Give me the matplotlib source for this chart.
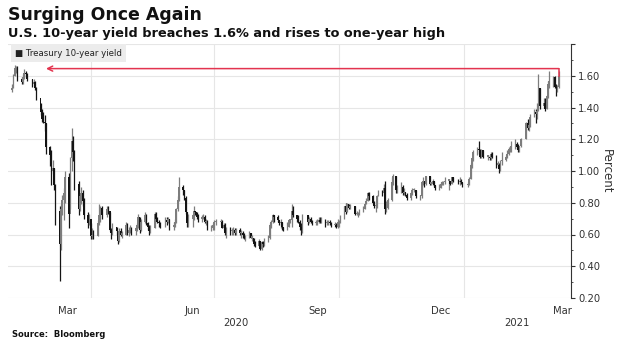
import matplotlib
matplotlib.use('Agg')
import matplotlib.pyplot as plt
import matplotlib.dates as mdates
import matplotlib.transforms as mtransforms
import numpy as np
import pandas as pd

plt.rcParams['font.family'] = ['DejaVu Sans']

# US bond market holidays in the window
holidays = ['2020-02-17', '2020-04-10', '2020-05-25', '2020-07-03', '2020-09-07',
            '2020-10-12', '2020-11-11', '2020-11-26', '2020-12-25', '2021-01-01',
            '2021-01-18', '2021-02-15']

first_open = 1.51

# daily closes, one line per week
yield_close = [
    # Feb 2020
    1.52, 1.60, 1.65, 1.65, 1.58, 1.56, 1.59, 1.62, 1.61, 1.58, 1.55, 1.56, 1.52, 1.46,
    1.37, 1.33, 1.31, 1.30, 1.15,
    # Mar 2020
    1.10, 1.00, 1.02, 0.91, 0.75, 0.54, 0.76, 0.82, 0.86, 0.96, 0.73, 1.08, 1.19, 1.12, 0.92,
    0.76, 0.84, 0.86, 0.81, 0.72, 0.67, 0.70,
    # Apr 2020
    0.59, 0.60, 0.59, 0.67, 0.72, 0.77, 0.72, 0.76, 0.75, 0.63, 0.61, 0.65,
    0.62, 0.56, 0.62, 0.60, 0.60, 0.66, 0.61, 0.63, 0.64,
    # May 2020
    0.62, 0.64, 0.66, 0.71, 0.63, 0.68, 0.72, 0.67, 0.65, 0.62, 0.64,
    0.73, 0.70, 0.68, 0.67, 0.66, 0.69, 0.68, 0.70, 0.65,
    # Jun 2020
    0.66, 0.68, 0.76, 0.82, 0.90, 0.88, 0.83, 0.74, 0.67, 0.70, 0.72, 0.75, 0.74, 0.71, 0.70,
    0.71, 0.71, 0.68, 0.68, 0.64, 0.64, 0.66,
    # Jul 2020
    0.68, 0.68, 0.68, 0.64, 0.66, 0.61, 0.64, 0.62, 0.62, 0.63, 0.61, 0.63,
    0.61, 0.61, 0.60, 0.58, 0.59, 0.61, 0.58, 0.58, 0.54, 0.53,
    # Aug 2020
    0.56, 0.51, 0.55, 0.54, 0.56, 0.58, 0.66, 0.68, 0.72, 0.71, 0.69, 0.67, 0.68, 0.65, 0.64,
    0.65, 0.69, 0.69, 0.75, 0.72, 0.70,
    # Sep 2020
    0.68, 0.65, 0.63, 0.72, 0.68, 0.70, 0.68, 0.67, 0.67, 0.68, 0.69, 0.68, 0.69,
    0.67, 0.67, 0.68, 0.67, 0.66, 0.66, 0.65, 0.68,
    # Oct 2020
    0.68, 0.70, 0.78, 0.74, 0.79, 0.77, 0.78, 0.73, 0.73, 0.73, 0.74,
    0.76, 0.79, 0.81, 0.86, 0.84, 0.80, 0.78, 0.78, 0.84, 0.87,
    # Nov 2020
    0.86, 0.89, 0.76, 0.77, 0.82, 0.93, 0.97, 0.88, 0.90, 0.90, 0.86, 0.87, 0.85, 0.83,
    0.86, 0.88, 0.88, 0.84, 0.84,
    # Dec 2020
    0.93, 0.94, 0.92, 0.97, 0.92, 0.92, 0.94, 0.91, 0.89, 0.89, 0.92, 0.92, 0.93, 0.94,
    0.94, 0.92, 0.96, 0.94, 0.93, 0.94, 0.93, 0.91,
    # Jan 2021
    0.91, 0.95, 1.04, 1.08, 1.12, 1.14, 1.13, 1.09, 1.13, 1.09, 1.09, 1.08, 1.11, 1.09,
    1.04, 1.04, 1.01, 1.06, 1.07,
    # Feb 2021
    1.09, 1.11, 1.14, 1.14, 1.16, 1.17, 1.15, 1.13, 1.16, 1.20, 1.30, 1.27, 1.29, 1.34,
    1.37, 1.36, 1.38, 1.52, 1.41,
    # Mar 2021
    1.43, 1.39, 1.47, 1.55, 1.57, 1.59, 1.53, 1.52, 1.53, 1.60,
]

yield_high = [
    1.55, 1.61, 1.67, 1.66, 1.66, 1.59, 1.61, 1.64, 1.63, 1.62, 1.58, 1.58, 1.57, 1.53,
    1.43, 1.39, 1.37, 1.35, 1.30,
    1.16, 1.13, 1.07, 1.02, 0.92, 0.78, 0.79, 0.85, 0.89, 1.00, 0.99, 1.09, 1.27, 1.22, 1.13,
    0.94, 0.86, 0.90, 0.88, 0.83, 0.74, 0.73,
    0.67, 0.64, 0.63, 0.69, 0.79, 0.78, 0.78, 0.78, 0.78, 0.74, 0.64, 0.67,
    0.65, 0.62, 0.64, 0.64, 0.62, 0.68, 0.67, 0.65, 0.66,
    0.65, 0.65, 0.67, 0.73, 0.71, 0.70, 0.74, 0.73, 0.68, 0.66, 0.66,
    0.74, 0.74, 0.71, 0.69, 0.68, 0.71, 0.71, 0.71, 0.70,
    0.68, 0.70, 0.77, 0.84, 0.96, 0.91, 0.88, 0.84, 0.74, 0.73, 0.73, 0.78, 0.75, 0.74, 0.73,
    0.72, 0.73, 0.72, 0.70, 0.69, 0.66, 0.67,
    0.69, 0.70, 0.70, 0.69, 0.67, 0.67, 0.65, 0.65, 0.64, 0.65, 0.64, 0.64,
    0.64, 0.63, 0.62, 0.61, 0.60, 0.62, 0.61, 0.60, 0.58, 0.56,
    0.57, 0.56, 0.56, 0.56, 0.58, 0.60, 0.67, 0.69, 0.73, 0.72, 0.72, 0.69, 0.70, 0.68, 0.65,
    0.68, 0.70, 0.70, 0.79, 0.78, 0.72,
    0.72, 0.69, 0.67, 0.73, 0.72, 0.71, 0.71, 0.69, 0.69, 0.70, 0.71, 0.71, 0.71,
    0.70, 0.69, 0.69, 0.69, 0.68, 0.68, 0.67, 0.70,
    0.69, 0.72, 0.78, 0.80, 0.80, 0.79, 0.79, 0.78, 0.75, 0.74, 0.76,
    0.78, 0.80, 0.83, 0.87, 0.87, 0.85, 0.81, 0.79, 0.85, 0.88,
    0.88, 0.92, 0.94, 0.81, 0.83, 0.96, 0.98, 0.97, 0.91, 0.93, 0.91, 0.89, 0.87, 0.86,
    0.87, 0.89, 0.89, 0.88, 0.85,
    0.94, 0.96, 0.94, 0.97, 0.97, 0.93, 0.95, 0.94, 0.91, 0.92, 0.93, 0.94, 0.94, 0.96,
    0.95, 0.94, 0.96, 0.96, 0.95, 0.96, 0.95, 0.93,
    0.93, 0.96, 1.05, 1.08, 1.13, 1.15, 1.19, 1.14, 1.14, 1.13, 1.10, 1.10, 1.12, 1.12,
    1.10, 1.06, 1.05, 1.07, 1.12,
    1.10, 1.13, 1.15, 1.16, 1.19, 1.20, 1.18, 1.17, 1.16, 1.21, 1.31, 1.33, 1.30, 1.36,
    1.39, 1.39, 1.43, 1.61, 1.52,
    1.46, 1.46, 1.48, 1.57, 1.63, 1.60, 1.60, 1.55, 1.54, 1.63,
]

yield_low = [
    1.50, 1.52, 1.60, 1.62, 1.57, 1.55, 1.55, 1.58, 1.59, 1.57, 1.53, 1.54, 1.51, 1.45,
    1.35, 1.31, 1.30, 1.25, 1.11,
    1.03, 0.91, 0.98, 0.88, 0.66, 0.31, 0.50, 0.72, 0.69, 0.80, 0.64, 0.76, 1.00, 1.06, 0.88,
    0.72, 0.75, 0.79, 0.78, 0.70, 0.64, 0.66,
    0.57, 0.57, 0.57, 0.59, 0.66, 0.68, 0.70, 0.71, 0.73, 0.62, 0.57, 0.60,
    0.60, 0.54, 0.55, 0.59, 0.58, 0.60, 0.60, 0.59, 0.61,
    0.60, 0.60, 0.62, 0.64, 0.61, 0.62, 0.67, 0.66, 0.63, 0.60, 0.61,
    0.64, 0.70, 0.67, 0.65, 0.64, 0.65, 0.66, 0.67, 0.63,
    0.63, 0.65, 0.67, 0.75, 0.81, 0.85, 0.82, 0.73, 0.65, 0.65, 0.65, 0.69, 0.72, 0.70, 0.68,
    0.68, 0.70, 0.67, 0.66, 0.63, 0.62, 0.63,
    0.63, 0.66, 0.66, 0.64, 0.63, 0.60, 0.58, 0.60, 0.60, 0.60, 0.60, 0.60,
    0.60, 0.58, 0.58, 0.57, 0.56, 0.58, 0.58, 0.56, 0.53, 0.52,
    0.52, 0.50, 0.50, 0.52, 0.53, 0.55, 0.57, 0.64, 0.67, 0.68, 0.68, 0.66, 0.64, 0.63, 0.62,
    0.63, 0.65, 0.67, 0.65, 0.71, 0.68,
    0.67, 0.63, 0.60, 0.61, 0.66, 0.67, 0.67, 0.66, 0.66, 0.66, 0.67, 0.67, 0.67,
    0.65, 0.66, 0.66, 0.66, 0.65, 0.65, 0.64, 0.64,
    0.65, 0.67, 0.70, 0.73, 0.74, 0.76, 0.76, 0.72, 0.72, 0.71, 0.72,
    0.74, 0.76, 0.79, 0.81, 0.82, 0.79, 0.77, 0.74, 0.77, 0.84,
    0.84, 0.86, 0.73, 0.74, 0.76, 0.81, 0.91, 0.86, 0.86, 0.86, 0.85, 0.85, 0.84, 0.82,
    0.82, 0.85, 0.87, 0.83, 0.82,
    0.83, 0.91, 0.90, 0.91, 0.91, 0.91, 0.91, 0.90, 0.88, 0.88, 0.89, 0.91, 0.91, 0.92,
    0.88, 0.91, 0.92, 0.93, 0.92, 0.91, 0.92, 0.90,
    0.90, 0.91, 0.95, 1.02, 1.06, 1.10, 1.11, 1.08, 1.08, 1.08, 1.07, 1.07, 1.07, 1.08,
    1.02, 1.03, 0.99, 1.00, 1.04,
    1.06, 1.08, 1.10, 1.12, 1.12, 1.14, 1.14, 1.12, 1.12, 1.15, 1.20, 1.26, 1.25, 1.28,
    1.34, 1.30, 1.33, 1.38, 1.39,
    1.40, 1.38, 1.39, 1.46, 1.52, 1.53, 1.52, 1.47, 1.50, 1.52,
]

month_ticks = ['2020-03-15', '2020-06-15', '2020-09-15', '2020-12-15', '2021-03-15']
month_labels = ['Mar', 'Jun', 'Sep', 'Dec', 'Mar']
quarter_lines = ['2020-04-01', '2020-07-01', '2020-10-01', '2021-01-01']
year_labels = ['2020', '2021']
y_ticks = [0.2, 0.4, 0.6, 0.8, 1.0, 1.2, 1.4, 1.6, 1.8]
arrow_level = 1.645
arrow_tip = '2020-02-28'

trade_days = pd.bdate_range('2020-02-03', '2021-03-12')
trade_days = trade_days[~trade_days.isin(pd.to_datetime(holidays))]

df = pd.DataFrame({'close': yield_close, 'high': yield_high, 'low': yield_low}, index=trade_days)
df['open'] = df['close'].shift(1).fillna(first_open)

fig = plt.figure(figsize=(6.19, 3.46), dpi=100)
ax = fig.add_axes([8 / 619, 48 / 346, 563 / 619, 254 / 346])

x = mdates.date2num(df.index)
up = df['close'] >= df['open']
colors = np.where(up, '#7d7d7d', '#141414')
ax.vlines(x, df['low'], df['high'], colors=colors, lw=0.9, zorder=3)
body_bottom = np.minimum(df['open'], df['close'])
body_height = np.maximum((df['close'] - df['open']).abs(), 0.008)
ax.bar(x, body_height, bottom=body_bottom, width=1.25, color=colors, linewidth=0, zorder=3)

x0 = mdates.date2num(pd.Timestamp('2020-01-31'))
x1 = mdates.date2num(pd.Timestamp('2021-03-21'))
ax.set_xlim(x0, x1)
ax.set_ylim(0.2, 1.8)

# gridlines
ax.set_yticks(y_ticks)
ax.set_yticklabels(['%.2f' % v for v in y_ticks[:-1]] + [''])
ax.set_yticks([v + 0.1 for v in y_ticks[:-1]], minor=True)
ax.grid(axis='y', which='major', color='#e6e6e6', lw=0.8, zorder=0)
for d in quarter_lines:
    ax.axvline(mdates.date2num(pd.Timestamp(d)), color='#e6e6e6', lw=0.8, zorder=0)

ax.yaxis.tick_right()
ax.yaxis.set_label_position('right')
ax.tick_params(axis='y', which='major', direction='out', length=3, width=0.8,
               colors='#333333', labelsize=7.2, pad=2)
ax.tick_params(axis='y', which='minor', direction='out', length=1.5, width=0.6, colors='#333333')
ax.set_ylabel('Percent', rotation=270, fontsize=8.5, color='#333333', labelpad=9)

ax.set_xticks([mdates.date2num(pd.Timestamp(d)) for d in month_ticks])
ax.set_xticklabels(month_labels)
ax.tick_params(axis='x', length=0, labelsize=7.2, colors='#333333', pad=6)

for s in ['left', 'top', 'bottom']:
    ax.spines[s].set_visible(False)
ax.spines['right'].set_color('#333333')
ax.spines['right'].set_linewidth(0.8)

# year labels under month labels
jan = mdates.date2num(pd.Timestamp('2021-01-01'))
trans = mtransforms.blended_transform_factory(ax.transData, ax.transAxes)
ax.text((x0 + jan) / 2, -0.098, year_labels[0], transform=trans, ha='center', va='center',
        fontsize=7.2, color='#333333')
ax.text((jan + x1) / 2, -0.098, year_labels[1], transform=trans, ha='center', va='center',
        fontsize=7.2, color='#333333')

# red arrow back to the Feb 2020 level
red = '#e3344f'
last_x = x[-1]
ax.plot([last_x, last_x], [df['close'].iloc[-1], arrow_level], color=red, lw=1.1, zorder=4)
ax.annotate('', xy=(mdates.date2num(pd.Timestamp(arrow_tip)), arrow_level),
            xytext=(last_x, arrow_level),
            arrowprops=dict(arrowstyle='->', color=red, lw=1.1, shrinkA=0, shrinkB=0,
                            mutation_scale=9), zorder=4)

fig.text(8 / 619, 1 - 20 / 346, 'Surging Once Again', fontsize=12.5, fontweight='bold',
         color='#111111', va='baseline')
fig.text(8 / 619, 1 - 37 / 346, 'U.S. 10-year yield breaches 1.6% and rises to one-year high',
         fontsize=9.3, fontweight='bold', color='#111111', va='baseline')
fig.text(15 / 619, 1 - 53 / 346, '\u25a0 Treasury 10-year yield', fontsize=6.2, color='#222222',
         va='center', bbox=dict(boxstyle='square,pad=0.5', fc='#ececec', ec='none'))
fig.text(12 / 619, 1 - 337 / 346, 'Source:  Bloomberg', fontsize=6, fontweight='bold',
         color='#111111', va='baseline')

fig.savefig('out.png', dpi=100)
